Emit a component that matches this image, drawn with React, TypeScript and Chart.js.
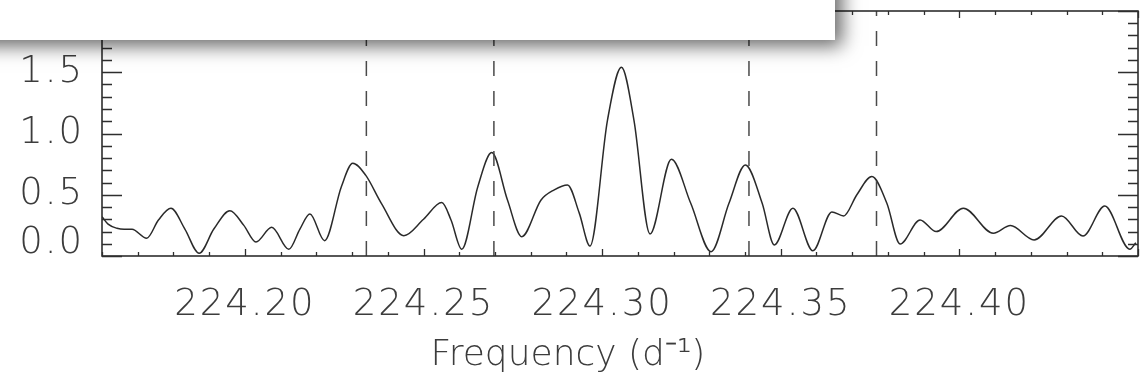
import React, { useEffect, useRef } from "react";
import { Chart, registerables } from "chart.js";

Chart.register(...registerables);

// ---- data ----
const frequencies = [
  224.16, 224.1617, 224.1642, 224.1662, 224.1684, 224.1725, 224.1758, 224.1793,
  224.1832, 224.1872, 224.1913, 224.1958, 224.1997, 224.2031, 224.2075, 224.2123,
  224.2154, 224.2182, 224.2223, 224.227, 224.2302, 224.2338, 224.2382, 224.2445,
  224.25, 224.2551, 224.2577, 224.2607, 224.2652, 224.2691, 224.2735, 224.2775,
  224.2829, 224.2866, 224.2903, 224.2936, 224.2966, 224.3015, 224.3054, 224.3089,
  224.3134, 224.3194, 224.3248, 224.3305, 224.3355, 224.3401, 224.3448, 224.3482,
  224.3534, 224.359, 224.3643, 224.3676, 224.3713, 224.3755, 224.3797, 224.3834,
  224.389, 224.3935, 224.4011, 224.4095, 224.4143, 224.4209, 224.4286, 224.4346,
  224.4407, 224.4477, 224.4494,
];
const amplitudes = [
  0.32, 0.26, 0.226, 0.218, 0.218, 0.145, 0.294, 0.39,
  0.22, 0.022, 0.22, 0.37, 0.25, 0.114, 0.234, 0.055,
  0.22, 0.343, 0.125, 0.566, 0.757, 0.66, 0.43, 0.166,
  0.3, 0.436, 0.294, 0.055, 0.566, 0.844, 0.457, 0.158,
  0.457, 0.54, 0.58, 0.35, 0.082, 1.11, 1.54, 1.11,
  0.18, 0.79, 0.43, 0.035, 0.43, 0.743, 0.43, 0.09,
  0.39, 0.043, 0.36, 0.327, 0.5, 0.648, 0.43, 0.098,
  0.294, 0.199, 0.39, 0.185, 0.248, 0.131, 0.327, 0.163,
  0.408, 0.055, 0.109,
];
const aliasFrequencies = [224.234, 224.2697, 224.3411, 224.3768];
const xTickValues = [224.2, 224.25, 224.3, 224.35, 224.4];
const xTickLabels = ["224.20", "224.25", "224.30", "224.35", "224.40"];
const yTickValues = [0, 0.5, 1.0, 1.5, 2.0];
const yTickLabels = ["0.0", "0.5", "1.0", "1.5", "2.0"];
const xMin = 224.16;
const xMax = 224.45;
const yMin = 0;
const yMax = 2.0;
const xMinorStep = 0.01;
const yMinorStep = 0.1;
const xTitle = "Frequency (d\u207B\u00B9)";

const FONT_FAMILY = "'DejaVu Sans', 'Liberation Sans', sans-serif";
const FONT_WEIGHT = "200";
const TEXT_COLOR = "#3c3c3c";
const AXIS_COLOR = "#2e2e2e";

const framePlugin = {
  id: "frame",
  beforeDraw(chart: any) {
    (chart.ctx as any).letterSpacing = "2px";
  },
  afterDatasetsDraw(chart: any) {
    const { ctx, chartArea } = chart;
    const xs = chart.scales.x;
    const ys = chart.scales.y;
    const { left, right, top, bottom } = chartArea;
    ctx.save();
    ctx.strokeStyle = AXIS_COLOR;
    ctx.lineWidth = 1.6;
    ctx.strokeRect(left, top, right - left, bottom - top);
    ctx.lineWidth = 1.3;
    ctx.beginPath();
    const kx0 = Math.ceil(xMin / xMinorStep - 1e-6);
    const kx1 = Math.floor(xMax / xMinorStep + 1e-6);
    for (let k = kx0; k <= kx1; k++) {
      const px = Math.round(xs.getPixelForValue(k * xMinorStep)) + 0.5;
      const major = k % 5 === 0;
      const len = major ? 7 : 4;
      ctx.moveTo(px, bottom);
      ctx.lineTo(px, bottom - len);
      ctx.moveTo(px, top);
      ctx.lineTo(px, top + len);
    }
    const ky0 = Math.ceil(yMin / yMinorStep - 1e-6);
    const ky1 = Math.floor(yMax / yMinorStep + 1e-6);
    for (let k = ky0; k <= ky1; k++) {
      const py = Math.round(ys.getPixelForValue(k * yMinorStep)) + 0.5;
      const major = k % 5 === 0;
      const len = major ? 20 : 10;
      ctx.moveTo(left, py);
      ctx.lineTo(left + len, py);
      ctx.moveTo(right, py);
      ctx.lineTo(right - len, py);
    }
    ctx.stroke();
    ctx.restore();
  },
  afterDraw(chart: any) {
    const { ctx } = chart;
    ctx.save();
    (ctx as any).letterSpacing = "0px";
    // x-axis title
    ctx.fillStyle = TEXT_COLOR;
    ctx.font = `${FONT_WEIGHT} 36px ${FONT_FAMILY}`;
    ctx.textAlign = "center";
    ctx.textBaseline = "alphabetic";
    ctx.fillText(xTitle, 568, 365);
    ctx.restore();
    // overlapping white panel with drop shadow (top-left)
    ctx.save();
    ctx.shadowColor = "rgba(0,0,0,0.6)";
    ctx.shadowBlur = 18;
    ctx.shadowOffsetX = 7;
    ctx.shadowOffsetY = 6;
    ctx.fillStyle = "#ffffff";
    ctx.fillRect(-40, -40, 875, 80);
    ctx.restore();
  },
};

export default function App() {
  const canvasRef = useRef<HTMLCanvasElement | null>(null);

  useEffect(() => {
    if (!canvasRef.current) return;
    const curve = frequencies.map((f, i) => ({ x: f, y: amplitudes[i] }));
    const aliasSets = aliasFrequencies.map((f) => ({
      data: [
        { x: f, y: yMin },
        { x: f, y: yMax },
      ],
      borderColor: "#4a4a4a",
      borderWidth: 1.5,
      borderDash: [15, 15],
      pointRadius: 0,
      tension: 0,
    }));
    const font = { family: FONT_FAMILY, size: 37, weight: FONT_WEIGHT as any };
    const chart = new Chart(canvasRef.current, {
      type: "line",
      data: {
        datasets: [
          ...aliasSets,
          {
            data: curve,
            borderColor: "#2a2a2a",
            borderWidth: 1.5,
            pointRadius: 0,
            cubicInterpolationMode: "monotone",
          } as any,
        ],
      },
      options: {
        animation: false,
        responsive: false,
        events: [],
        layout: { padding: { top: 11, right: 4, left: 0, bottom: 0 } },
        plugins: { legend: { display: false }, tooltip: { enabled: false }, title: { display: false } },
        scales: {
          x: {
            type: "linear",
            min: xMin,
            max: xMax,
            grid: { display: false, drawTicks: false },
            border: { display: false },
            afterBuildTicks: (scale: any) => {
              scale.ticks = xTickValues.map((v) => ({ value: v }));
            },
            afterFit: (scale: any) => {
              scale.height = 126;
              scale.paddingLeft = 0;
              scale.paddingRight = 0;
            },
            ticks: {
              autoSkip: false,
              maxRotation: 0,
              minRotation: 0,
              padding: 27,
              color: TEXT_COLOR,
              font,
              callback: (v: any) => {
                const i = xTickValues.findIndex((t) => Math.abs(t - Number(v)) < 1e-6);
                return i >= 0 ? xTickLabels[i] : "";
              },
            },
          },
          y: {
            type: "linear",
            min: yMin,
            max: yMax,
            grid: { display: false, drawTicks: false },
            border: { display: false },
            afterBuildTicks: (scale: any) => {
              scale.ticks = yTickValues.map((v) => ({ value: v }));
            },
            afterFit: (scale: any) => {
              scale.width = 102;
              scale.paddingTop = 0;
              scale.paddingBottom = 0;
            },
            ticks: {
              autoSkip: false,
              padding: 18,
              color: TEXT_COLOR,
              // the lowest label sits just above the bottom axis in the reference
              font: (c: any) => (c.index === 0 ? { ...font, lineHeight: 0.7 } : font),
              callback: (v: any) => {
                const i = yTickValues.findIndex((t) => Math.abs(t - Number(v)) < 1e-6);
                if (i < 0) return "";
                return i === 0 ? [yTickLabels[i], ""] : yTickLabels[i];
              },
            },
          },
        },
      },
      plugins: [framePlugin],
    });
    return () => chart.destroy();
  }, []);

  return (
    <div style={{ position: "absolute", left: 0, top: 0, width: 1142, height: 382, background: "#fff" }}>
      <canvas ref={canvasRef} width={1142} height={382} style={{ display: "block" }} />
    </div>
  );
}
